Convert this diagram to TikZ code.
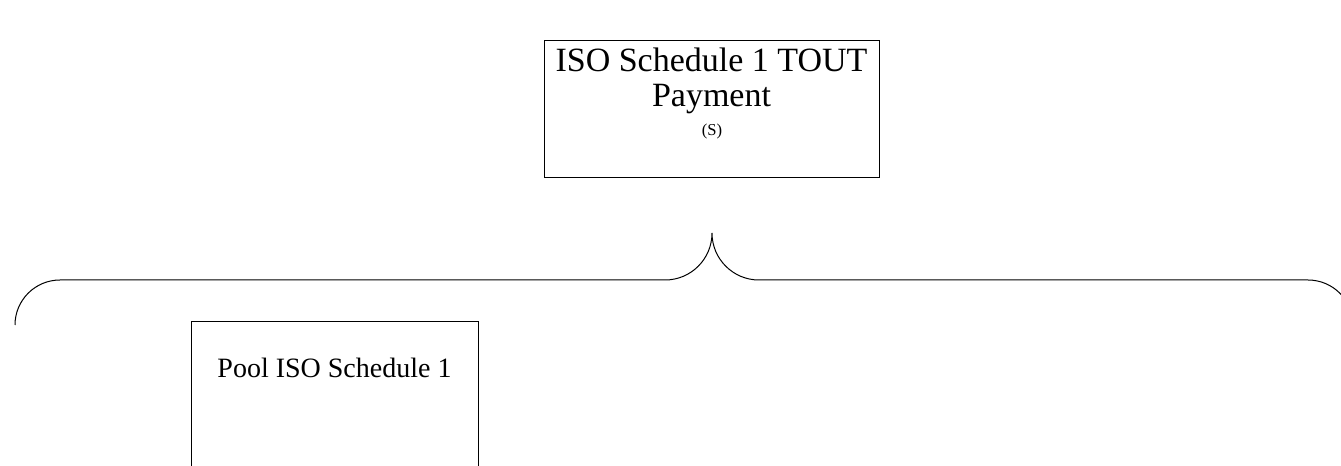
\documentclass[tikz,border=0pt]{standalone}
\usepackage{fontspec}
\setmainfont{Liberation Serif}

\begin{document}
\begin{tikzpicture}[x=0.75pt,y=0.75pt,yscale=-1,xscale=1,
  box/.style={draw, line width=0.75pt, inner sep=0pt},
  txt/.style={anchor=base, inner sep=0.75pt}]
\useasboundingbox (0,0) rectangle (1341,466);
\clip (0,0) rectangle (1341,466);

%Shape: Rectangle [id:toutbox]
\node [box, minimum width=251.25pt, minimum height=102.75pt] (toutbox) at (711.5,109.5) {};
%Shape: Rectangle [id:poolbox]
\node [box, minimum width=215.25pt, minimum height=135pt] (poolbox) at (334.5,412) {};

%Shape: Brace [id:brace]
\draw [line width=0.75pt] (15,325) .. controls (15,300.15) and (35.15,280) .. (60,280) -- (665,280) .. controls (690.96,280) and (712,258.96) .. (712,233) .. controls (712,258.96) and (733.04,280) .. (759,280) -- (1308,280) .. controls (1332.85,280) and (1353,300.15) .. (1353,325) ;

% Text Node
\node [txt, font=\fontsize{25.5}{26}\selectfont] (toutname) at (711.5,72) {ISO Schedule 1 TOUT};
% Text Node
\node [txt, font=\fontsize{25.5}{26}\selectfont] (toutpay) at (711.5,107) {Payment};
% Text Node
\node [txt, font=\fontsize{12.5}{13}\selectfont] (toutunit) at (712,135.5) {(S)};
% Text Node
\node [txt, font=\fontsize{21}{22}\selectfont] (poolname) at (334.5,378) {Pool ISO Schedule 1};

\end{tikzpicture}
\end{document}
